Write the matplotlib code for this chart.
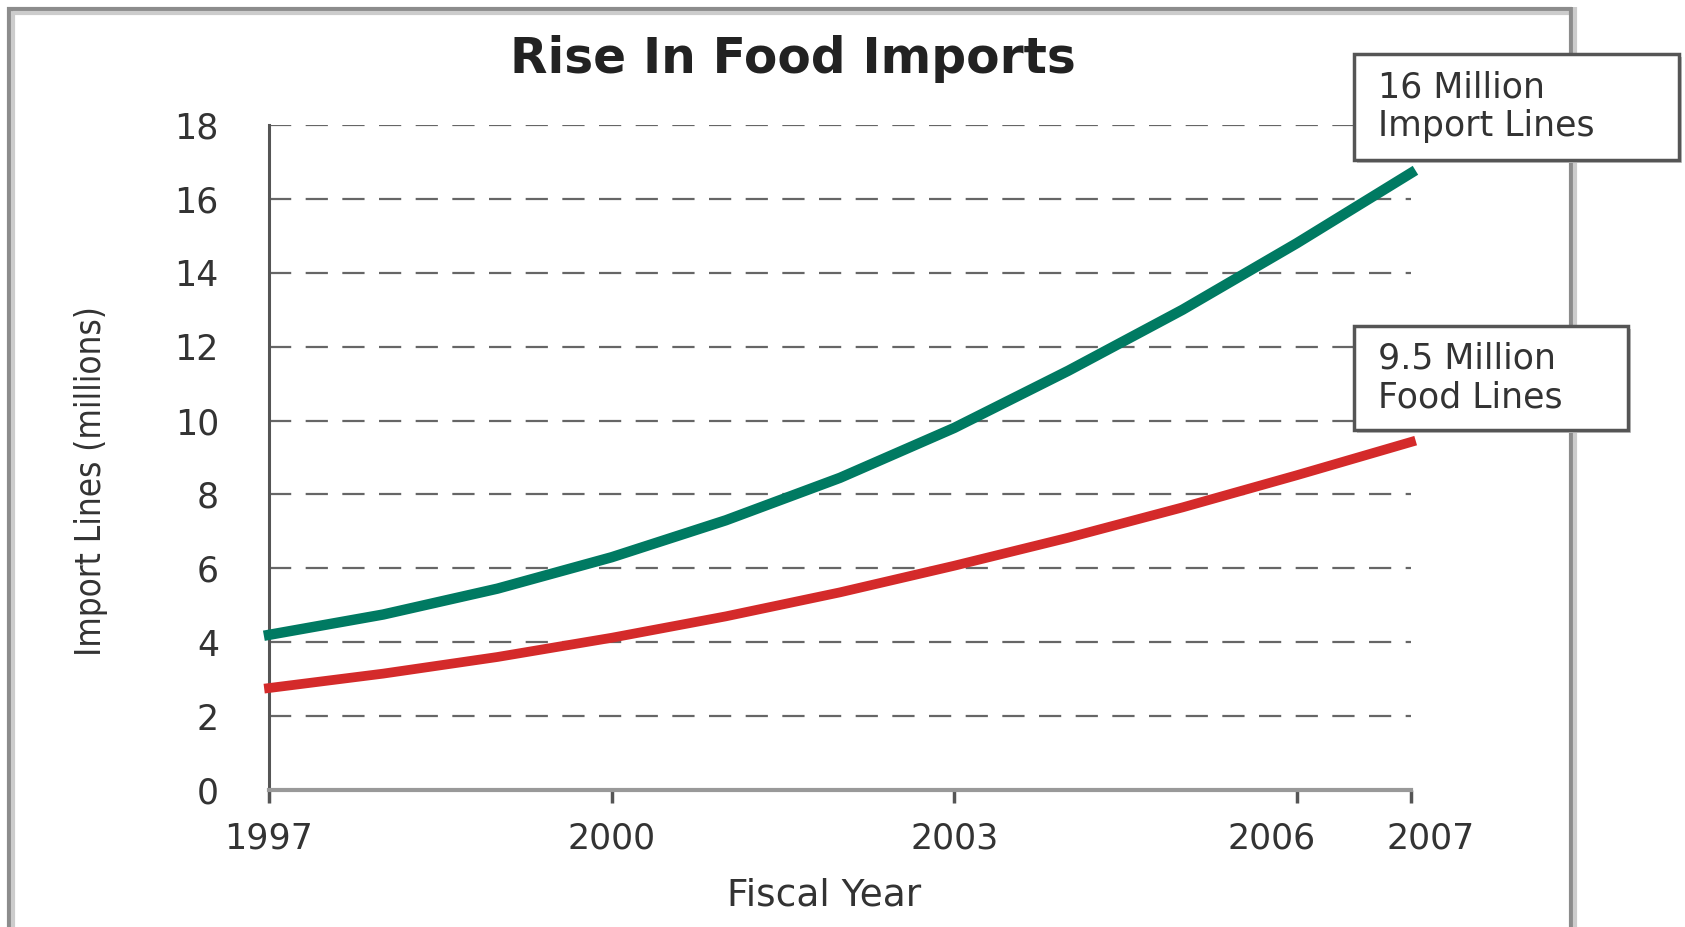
import matplotlib
matplotlib.use('Agg')
import matplotlib.pyplot as plt
from matplotlib.lines import Line2D
from matplotlib.patches import Rectangle
import matplotlib.transforms as mtransforms

years = [1997, 1998, 1999, 2000, 2001, 2002, 2003, 2004, 2005, 2006, 2007]
import_lines = [4.2, 4.75, 5.45, 6.3, 7.3, 8.45, 9.8, 11.35, 13.0, 14.8, 16.7]
food_lines = [2.76, 3.15, 3.6, 4.12, 4.7, 5.35, 6.07, 6.83, 7.65, 8.52, 9.42]
xticks = [1997, 2000, 2003, 2006, 2007]
yticks = list(range(0, 19, 2))

W, H = 1685, 927
fig = plt.figure(figsize=(W / 100, H / 100), dpi=100)
ax = fig.add_axes([269 / W, 1 - 790 / H, (1411 - 269) / W, (790 - 125) / H])

txt = '#333333'

# dashed grid at each y tick
for y in yticks[1:]:
    ax.axhline(y, color='#666666', lw=1.6, dashes=(10, 6.5), zorder=1)

ax.plot(years, import_lines, color='#007a62', lw=7.5, clip_on=False, zorder=3,
        solid_joinstyle='round')
ax.plot(years, food_lines, color='#d42a2a', lw=7, clip_on=False, zorder=3,
        solid_joinstyle='round')

ax.set_xlim(1997, 2007)
ax.set_ylim(0, 18)
ax.set_xticks(xticks)
ax.set_yticks(yticks)
ax.tick_params(axis='y', length=0, pad=36, labelsize=25, labelcolor=txt)
ax.tick_params(axis='x', length=9, width=2.5, color='#555555', pad=14,
               labelsize=25, labelcolor=txt)

# nudge the crowded last two year labels apart
labels = ax.get_xticklabels()
shifts = {3: -25, 4: 20}
for i, dx in shifts.items():
    off = mtransforms.ScaledTranslation(dx / 100, 0, fig.dpi_scale_trans)
    labels[i].set_transform(labels[i].get_transform() + off)

for s in ['top', 'right']:
    ax.spines[s].set_visible(False)
ax.spines['left'].set_color('#555555')
ax.spines['left'].set_linewidth(2.2)
ax.spines['bottom'].set_color('#999999')
ax.spines['bottom'].set_linewidth(3)

fig.text(824 / W, 1 - 895 / H, 'Fiscal Year', ha='center', va='center',
         fontsize=27, color=txt)
fig.text(91 / W, 1 - 481 / H, 'Import Lines (millions)', rotation=90,
         ha='center', va='center', fontsize=25, color=txt,
         family='DejaVu Sans', fontstretch='condensed')

fig.text(793 / W, 1 - 59 / H, 'Rise In Food Imports', ha='center', va='center',
         fontsize=35, fontweight='bold', color='#222222')

# outer frame
def fline(xs, ys, c, lw):
    fig.add_artist(Line2D([x / W for x in xs], [1 - y / H for y in ys],
                          color=c, lw=lw, solid_capstyle='butt'))

fline([9, 9], [7, 935], '#8c8c8c', 3)
fline([13, 13], [11, 935], '#cccccc', 3)
fline([7, 1572], [9, 9], '#8c8c8c', 3)
fline([13, 1570], [13, 13], '#cccccc', 3)
fline([1571, 1571], [7, 935], '#8c8c8c', 3)
fline([1575, 1575], [7, 935], '#cccccc', 3)

# callout boxes (left, top, right, bottom in pixels)
def callout(x0, y0, x1, y1, text):
    fig.add_artist(Rectangle((x0 / W + 3 / W, 1 - (y1 + 3) / H), (x1 - x0) / W, (y1 - y0) / H,
                             transform=fig.transFigure, fc='#c8c8c8', ec='none', zorder=4))
    fig.add_artist(Rectangle((x0 / W, 1 - y1 / H), (x1 - x0) / W, (y1 - y0) / H,
                             transform=fig.transFigure, fc='white', ec='#555555',
                             lw=2.5, zorder=5))
    fig.text((x0 + 24) / W, 1 - (y0 + y1) / 2 / H, text, ha='left', va='center',
             fontsize=25, color=txt, linespacing=1.15, zorder=6)

callout(1354, 54, 1679, 160, '16 Million\nImport Lines')
callout(1354, 326, 1628, 430, '9.5 Million\nFood Lines')

fig.savefig('out.png', dpi=100)
